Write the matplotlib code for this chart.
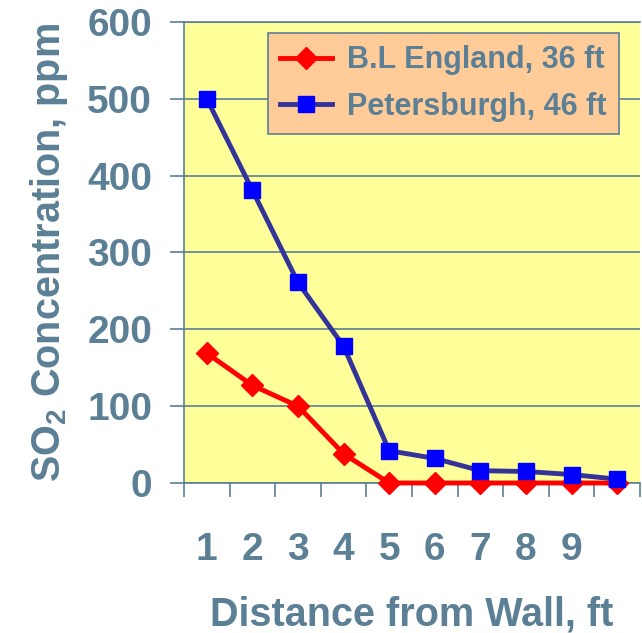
import numpy as np
import matplotlib.pyplot as plt

plt.rcParams['font.family'] = ['Liberation Sans', 'DejaVu Sans']
plt.rcParams['font.weight'] = 'bold'
plt.rcParams['axes.labelweight'] = 'bold'
plt.rcParams['mathtext.fontset'] = 'custom'
plt.rcParams['mathtext.rm'] = 'Liberation Sans:bold'
plt.rcParams['mathtext.bf'] = 'Liberation Sans:bold'

# data
distance = [1, 2, 3, 4, 5, 6, 7, 8, 9, 10]
tick_labels = ['1', '2', '3', '4', '5', '6', '7', '8', '9']
england = [169, 127, 100, 38, 0, 0, 0, 0, 0, 0]
petersburgh = [500, 381, 261, 178, 42, 32, 16, 15, 11, 5]

txt = '#5B7F95'

fig = plt.figure(figsize=(6.42, 6.33), dpi=100)
ax = fig.add_axes([184 / 642, 1 - 483 / 633, 456 / 642, 461 / 633])
ax.set_facecolor('#FFFF99')

ax.plot(distance, england, color='#FF0000', lw=3.5, marker='D', ms=11,
        label='B.L England, 36 ft', zorder=3, clip_on=False)
ax.plot(distance, petersburgh, color='#333399', lw=3.5, marker='s', ms=11,
        mfc='#0000FF', mec='#0000FF', label='Petersburgh, 46 ft', zorder=3, clip_on=False)

ax.set_xlim(0.5, 10.5)
ax.set_ylim(0, 600)
ax.set_yticks(np.arange(0, 601, 100))
ax.yaxis.grid(True, color=txt, lw=1.2)
ax.set_axisbelow(True)

ax.set_xticks(distance[:9])
ax.set_xticklabels(tick_labels)
ax.set_xticks(np.arange(0.5, 10.6, 1), minor=True)
ax.tick_params(axis='x', which='major', length=0, pad=35, labelsize=28, labelcolor=txt)
ax.tick_params(axis='x', which='minor', length=10, width=1.2, color=txt, direction='out')
ax.tick_params(axis='y', length=10, width=1.2, color=txt, pad=13, labelsize=28, labelcolor=txt)

ax.spines['right'].set_visible(False)
for s in ['left', 'bottom', 'top']:
    ax.spines[s].set_color(txt)
    ax.spines[s].set_linewidth(1.2)

ax.set_xlabel('Distance from Wall, ft', fontsize=28.5, color=txt, labelpad=20)
ax.set_ylabel(r'SO$_{2}$ Concentration, ppm', fontsize=28.5, color=txt, labelpad=12)

leg = ax.legend(loc='upper right', bbox_to_anchor=(0.954, 0.976), borderaxespad=0,
                fontsize=22, fancybox=False, framealpha=1, handlelength=1.7,
                labelspacing=0.55, borderpad=0.4, handletextpad=0.5)
leg.get_frame().set_facecolor('#FFCC99')
leg.get_frame().set_edgecolor(txt)
leg.get_frame().set_linewidth(1.2)
for t in leg.get_texts():
    t.set_color(txt)

fig.savefig('out.png', dpi=100)
